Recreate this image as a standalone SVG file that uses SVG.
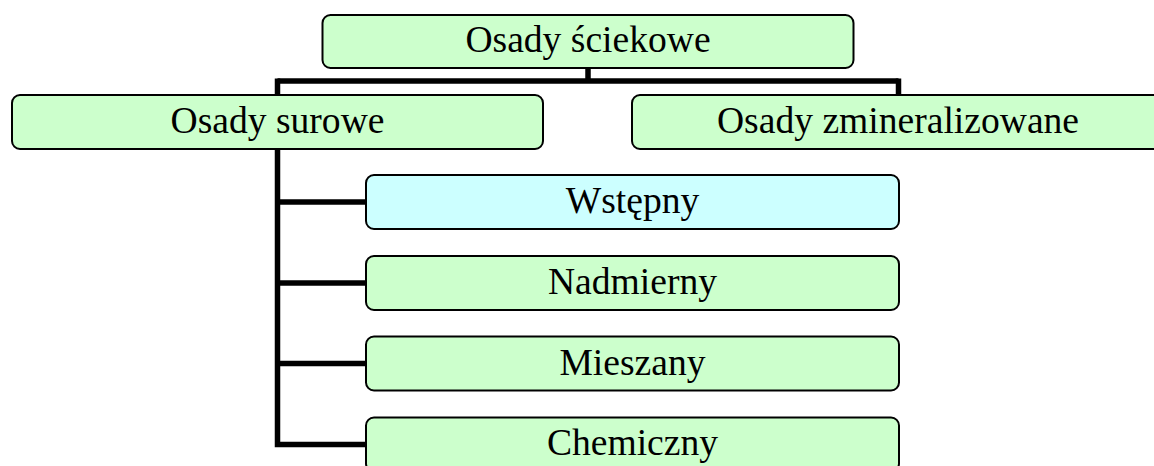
<svg xmlns="http://www.w3.org/2000/svg" width="1154" height="466" viewBox="0 0 1154 466">
  <style>
    .box { fill: #CCFFCC; stroke: #000; stroke-width: 2; }
    .box.alt { fill: #CCFFFF; }
    .lbl { font-size: 37.6px; fill: #000; text-anchor: middle; }
    .wire { fill: none; stroke: #000; stroke-width: 5.5; stroke-linejoin: miter; stroke-linecap: butt; }
  </style>
  <rect width="1154" height="466" fill="#fff"/>

  <!-- tree connectors -->
  <g id="connectors">
    <path class="wire" d="M588 68 V81"/>
    <path class="wire" d="M277.5 81 H898.5"/>
    <path class="wire" d="M277.5 78.5 V95"/>
    <path class="wire" d="M898.5 78.5 V95"/>
    <path class="wire" d="M277.5 149 V444.5 H366"/>
    <path class="wire" d="M277.5 202 H366"/>
    <path class="wire" d="M277.5 283 H366"/>
    <path class="wire" d="M277.5 363.5 H366"/>
  </g>

  <g font-family="'Liberation Serif', 'Times New Roman', Times, 'DejaVu Serif', serif">
    <g id="node-osady-sciekowe">
      <rect class="box" x="322.5" y="15" width="531" height="53" rx="8"/>
      <text class="lbl" x="588" y="52">Osady ściekowe</text>
    </g>

    <g id="node-osady-surowe">
      <rect class="box" x="12" y="95" width="531" height="54" rx="8"/>
      <text class="lbl" x="277.5" y="133">Osady surowe</text>
    </g>

    <g id="node-osady-zmineralizowane">
      <rect class="box" x="632" y="95" width="532" height="54" rx="8"/>
      <text class="lbl" x="898" y="133">Osady zmineralizowane</text>
    </g>

    <g id="node-wstepny">
      <rect class="box alt" x="366" y="175" width="533" height="54" rx="8"/>
      <text class="lbl" x="632.5" y="213">Wstępny</text>
    </g>

    <g id="node-nadmierny">
      <rect class="box" x="366" y="256" width="533" height="54" rx="8"/>
      <text class="lbl" x="632.5" y="294">Nadmierny</text>
    </g>

    <g id="node-mieszany">
      <rect class="box" x="366" y="336.5" width="533" height="54" rx="8"/>
      <text class="lbl" x="632.5" y="374.5">Mieszany</text>
    </g>

    <g id="node-chemiczny">
      <rect class="box" x="366" y="417.5" width="533" height="54" rx="8"/>
      <text class="lbl" x="632.5" y="455">Chemiczny</text>
    </g>
  </g>
</svg>
